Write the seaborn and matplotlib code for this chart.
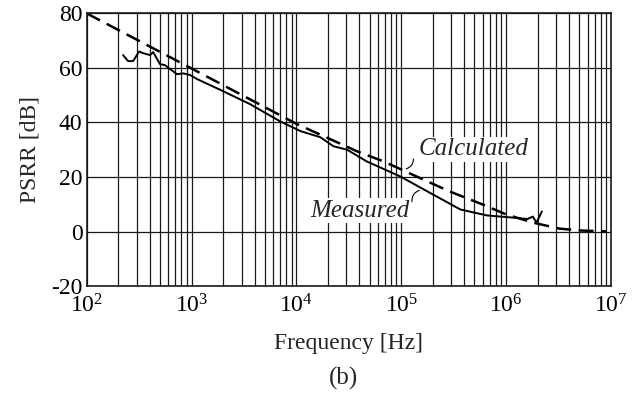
import numpy as np
import pandas as pd
import matplotlib
matplotlib.use('Agg')
import matplotlib.pyplot as plt
import seaborn as sns

# measured PSRR
meas_freq = [222, 248, 277, 316, 345, 402, 430, 500, 558, 623, 727, 830, 968, 1130,
             1870, 3620, 7000, 11000, 16900, 22500, 30500, 47000, 98000, 178000,
             366000, 660000, 1170000, 1600000, 1800000, 1950000, 2200000]
meas_db = [64.7, 62.5, 62.5, 66.0, 65.4, 64.7, 65.8, 61.4, 61.0, 59.6, 57.7, 58.0, 57.4, 55.9,
           52.0, 46.7, 40.4, 36.8, 34.6, 31.3, 30.0, 25.7, 20.2, 14.7,
           8.1, 5.9, 5.1, 4.6, 5.5, 3.3, 7.4]

# calculated PSRR
calc_freq = [1e2, 1e3, 1e4, 3.8e4, 6.8e4, 1.4e5, 2.9e5, 6e5, 1e6, 1.8e6, 3.2e6, 5e6, 9e6]
calc_db = [80, 59.8, 39.5, 29.4, 25.7, 20.2, 14.7, 9.9, 6.3, 3.3, 1.1, 0.4, 0.05]

y_ticks = [-20, 0, 20, 40, 60, 80]

sns.set_style('white')
plt.rcParams['font.family'] = ['Liberation Serif', 'DejaVu Serif']
plt.rcParams['mathtext.fontset'] = 'stix'
plt.rcParams['axes.unicode_minus'] = False

fig = plt.figure(figsize=(6.39, 3.93), dpi=100)
ax = fig.add_axes([0.1357, 0.272, 0.8203, 0.694])

df_m = pd.DataFrame({'f': meas_freq, 'db': meas_db})
df_c = pd.DataFrame({'f': calc_freq, 'db': calc_db})

sns.lineplot(data=df_c, x='f', y='db', ax=ax, color='black', lw=1.8,
             linestyle=(0, (6, 3)), estimator=None, sort=False)
sns.lineplot(data=df_m, x='f', y='db', ax=ax, color='black', lw=1.4,
             estimator=None, sort=False)

ax.set_xscale('log')
ax.set_xlim(1e2, 1e7)
ax.set_ylim(-20, 80)
ax.set_yticks(y_ticks)
ax.set_yticklabels([str(v) for v in y_ticks])
ax.xaxis.set_minor_locator(matplotlib.ticker.LogLocator(base=10, subs=np.arange(2, 10)))
ax.xaxis.set_minor_formatter(matplotlib.ticker.NullFormatter())

ax.grid(True, which='major', axis='both', color='#1a1a1a', lw=0.9)
ax.grid(True, which='minor', axis='x', color='#1a1a1a', lw=0.9)
ax.set_axisbelow(True)
ax.tick_params(which='both', length=0, labelsize=17, colors='black')
ax.tick_params(axis='x', pad=6)
ax.tick_params(axis='y', pad=3)
for s in ax.spines.values():
    s.set_color('#1a1a1a')
    s.set_linewidth(1.2)

ax.set_xlabel('Frequency [Hz]', fontsize=17, labelpad=11)
ax.set_ylabel('PSRR [dB]', fontsize=17, labelpad=8)

box = dict(facecolor='white', edgecolor='none', pad=1.0)
ax.text(4.9e5, 30.1, 'Calculated', fontsize=18, style='italic', ha='center', va='center', bbox=box)
ax.text(4.0e4, 7.7, 'Measured', fontsize=18, style='italic', ha='center', va='center', bbox=box)
ax.annotate('', xy=(1.05e5, 22.8), xytext=(1.3e5, 27.6),
            arrowprops=dict(arrowstyle='-', connectionstyle='arc3,rad=-0.5', lw=0.8, color='black'))
ax.annotate('', xy=(1.58e5, 15.4), xytext=(1.28e5, 9.9),
            arrowprops=dict(arrowstyle='-', connectionstyle='arc3,rad=-0.5', lw=0.8, color='black'))

fig.text(0.537, 0.038, '(b)', fontsize=18, ha='center', va='center')

fig.savefig('out.png', dpi=100)
